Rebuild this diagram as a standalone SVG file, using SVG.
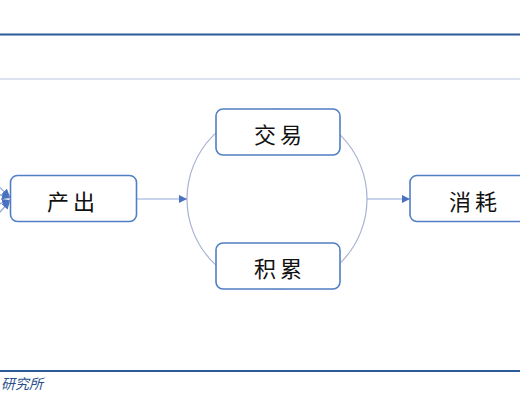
<svg xmlns="http://www.w3.org/2000/svg" width="520" height="400" viewBox="0 0 520 400">
<defs>
<style>
.box{fill:#ffffff;stroke:#4f7fc4;stroke-width:1.6}
.lbl{font-family:"Noto Sans CJK SC","Noto Sans CJK JP",sans-serif;font-size:22px;fill:#111111;text-anchor:middle;dominant-baseline:central;letter-spacing:4px}
.conn{fill:none;stroke:#8fa9d8;stroke-width:1.2}
.ring{fill:none;stroke:#aab2d2;stroke-width:1.2}
</style>
<marker id="ah" viewBox="0 0 10 10" refX="10" refY="5" markerWidth="8" markerHeight="8" markerUnits="userSpaceOnUse" orient="auto">
<path d="M0,0 L10,5 L0,10 z" fill="#4a72c0"/>
</marker>
</defs>
<rect x="0" y="0" width="520" height="400" fill="#ffffff"/>
<line x1="0" y1="34.5" x2="520" y2="34.5" stroke="#2c5b9a" stroke-width="2.2"/>
<line x1="0" y1="79" x2="520" y2="79" stroke="#b9c5e2" stroke-width="1.2"/>
<line x1="0" y1="371" x2="520" y2="371" stroke="#2c5b9a" stroke-width="2.2"/>
<text x="1" y="389" font-family="Noto Sans CJK SC,sans-serif" font-size="14" font-style="italic" fill="#2c4f8c">研究所</text>
<g id="connectors">
<circle class="ring" cx="277" cy="199" r="90"/>
<line class="conn" x1="137" y1="199" x2="187" y2="199" marker-end="url(#ah)"/>
<line class="conn" x1="367" y1="199" x2="410" y2="199" marker-end="url(#ah)"/>
<line class="conn" x1="-30" y1="160" x2="10" y2="197" marker-end="url(#ah)"/>
<line class="conn" x1="-30" y1="185" x2="10" y2="198" marker-end="url(#ah)"/>
<line class="conn" x1="-30" y1="215" x2="10" y2="200" marker-end="url(#ah)"/>
<line class="conn" x1="-30" y1="245" x2="10" y2="201" marker-end="url(#ah)"/>
</g>
<g id="node-chanchu">
<rect class="box" x="10.5" y="175.5" width="126" height="46" rx="7"/>
<text class="lbl" x="73" y="200">产出</text>
</g>
<g id="node-jiaoyi">
<rect class="box" x="216" y="109" width="124" height="46" rx="7"/>
<text class="lbl" x="280" y="133">交易</text>
</g>
<g id="node-jilei">
<rect class="box" x="216" y="243" width="124" height="46" rx="7"/>
<text class="lbl" x="280" y="267">积累</text>
</g>
<g id="node-xiaohao">
<rect class="box" x="410" y="175.5" width="126" height="46" rx="7"/>
<text class="lbl" x="475" y="200">消耗</text>
</g>
</svg>
